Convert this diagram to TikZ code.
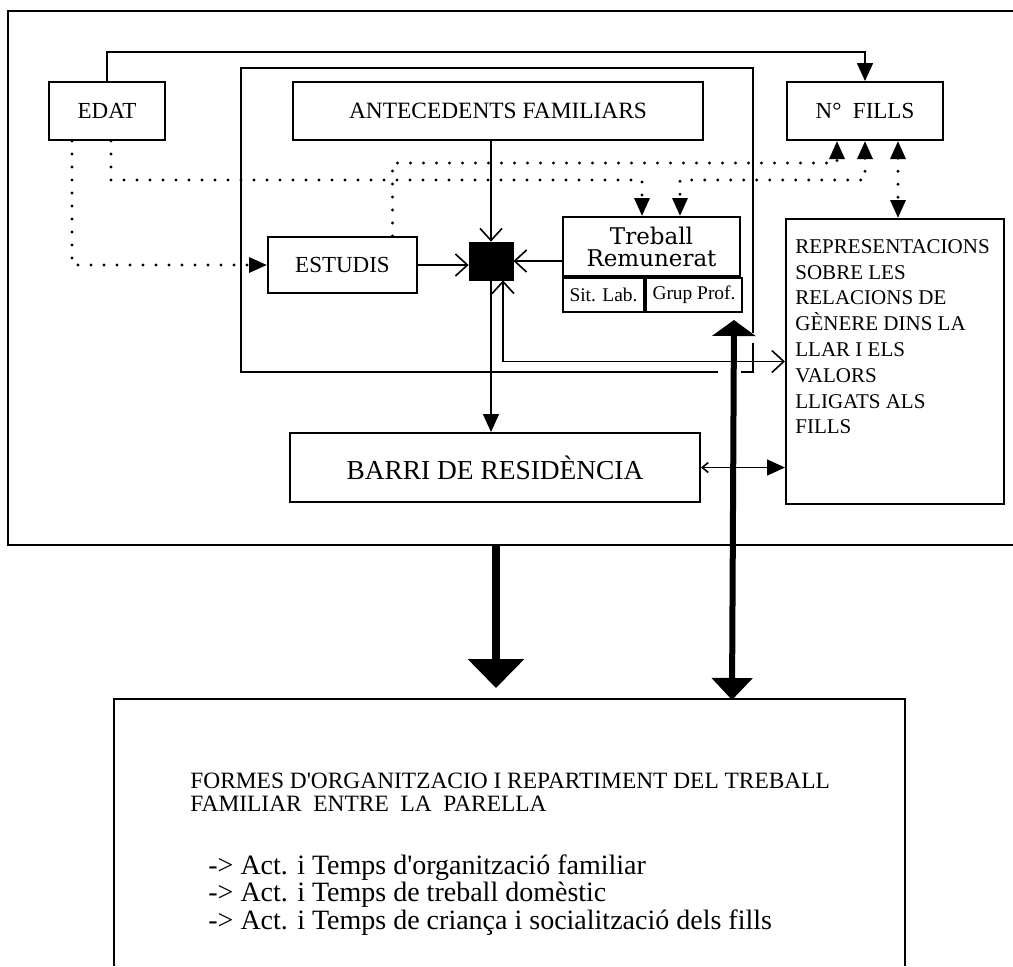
\documentclass[tikz,border=0pt]{standalone}
\usepackage{fontspec}
\setmainfont{Liberation Serif}
\newfontfamily\widefont{DejaVu Serif}
\usetikzlibrary{arrows.meta,positioning}

\tikzset{
  box/.style={draw, line width=1pt, inner sep=0pt, align=center},
  frameline/.style={line width=1.2pt},
  thinlink/.style={line width=0.8pt},
  dots/.style={line width=1.6pt, line cap=round, dash pattern=on 0pt off 6.5pt},
  barb/.tip={Straight Barb[length=6pt,width=11pt,line width=0.8pt]},
  solidtip/.tip={Triangle[length=9pt,width=8pt]},
  dottip/.tip={Triangle[length=9pt,width=7.5pt]},
}

\begin{document}
\begin{tikzpicture}[x=0.5pt,y=-0.5pt]
\useasboundingbox (0,0) rectangle (1013,966);

\draw[frameline] (1013,11) -- (8,11) -- (8,545) -- (1013,545);
\draw[frameline] (718,372) -- (241,372) -- (241,68) -- (753,68) -- (753,333);
\draw[frameline] (741,372) -- (753,372) -- (753,343);
\draw[frameline] (114,966) -- (114,699) -- (905,699) -- (905,966);

\node[box, minimum width=58pt, minimum height=29pt, font=\fontsize{11.5}{13}\selectfont] (edat) at (107,111) {EDAT};
\node[box, minimum width=205pt, minimum height=29pt, font=\fontsize{11.7}{13}\selectfont] (antec) at (498,111) {ANTECEDENTS FAMILIARS};
\node[box, minimum width=78pt, minimum height=29pt, font=\fontsize{11.5}{13}\selectfont] (fills) at (865,111) {N°\ \ FILLS};

\node[box, minimum width=74.5pt, minimum height=28pt, font=\fontsize{11.5}{13}\selectfont] (estudis) at (342.5,265) {ESTUDIS};
\node[draw, fill=black, minimum width=22pt, minimum height=19pt, inner sep=0pt] (sq) at (491,261) {};
\node[box, minimum width=88.5pt, minimum height=29.5pt, font=\widefont\fontsize{11.5}{11}\selectfont] (treball) at (651.5,246.5) {Treball\\Remunerat};
\node[box, minimum width=40.5pt, minimum height=17pt, font=\fontsize{9.7}{11}\selectfont, below right=0pt and 0pt of treball.south west, anchor=north west] (sit) {Sit. Lab.};
\node[box, minimum width=48pt, minimum height=17pt, font=\fontsize{9.7}{11}\selectfont, right=0pt of sit] (grup) {Grup Prof.};

\node[box, minimum width=109pt, minimum height=142.5pt, anchor=north west] (repr) at (785,218) {};
\node[anchor=north west, align=left, inner sep=0pt, font=\fontsize{10.5}{12.9}\selectfont] (reprtext) at (795,239) {REPRESENTACIONS\\SOBRE LES\\RELACIONS DE\\GÈNERE DINS LA\\LLAR I ELS\\VALORS\\LLIGATS ALS\\FILLS};

\node[box, minimum width=205pt, minimum height=34.5pt, font=\fontsize{13.7}{15}\selectfont] (barri) at (495,467.5) {BARRI DE RESIDÈNCIA};

\node[anchor=north west, align=left, inner sep=0pt, font=\fontsize{11.7}{11.5}\selectfont] (formes) at (190,773) {FORMES D\textquotesingle ORGANITZACIO I REPARTIMENT DEL TREBALL\\FAMILIAR\ \ ENTRE\ \ LA\ \ PARELLA};
\node[anchor=north west, align=left, inner sep=0pt, font=\fontsize{14}{11.5}\selectfont] (acts) at (208,854) {-> Act. i Temps d\textquotesingle organització familiar\\-> Act. i Temps de treball domèstic\\-> Act. i Temps de criança i socialització dels fills};

\coordinate (rowA) at (0,163);
\coordinate (rowB) at (0,180);
\coordinate (edatL) at ([xshift=-17.5pt]edat.south);
\coordinate (edatR) at ([xshift=2pt]edat.south);
\coordinate (estT) at ([xshift=25pt]estudis.north);
\coordinate (trL) at ([xshift=-4.75pt]treball.north);
\coordinate (trR) at ([xshift=14.25pt]treball.north);
\coordinate (fillsL) at ([xshift=-14pt]fills.south);
\coordinate (fillsR) at (fills.south);
\coordinate (fillsX) at ([xshift=16.5pt]fills.south);
\coordinate (outS) at (496,545);
\coordinate (botA) at (496,688);
\coordinate (grupT) at ([xshift=20pt,yshift=-3.5pt]grup.south);
\coordinate (botB) at (732,700);

\draw[thinlink, -solidtip] (edat.north) -- ++(0,-29) -| (fills.north);
\draw[thinlink, -barb] (sq.north |- antec.south) -- (sq.north);
\draw[thinlink, -barb] (estudis.east) -- (estudis.east -| sq.west);
\draw[thinlink, -barb] (sq.east -| treball.west) -- (sq.east);
\draw[thinlink, -solidtip] (sq.south) -- (sq.south |- barri.north);
\draw[thinlink, barb-barb] ([xshift=6pt]sq.south) |- (repr.west);
\draw[thinlink, {Straight Barb[length=3pt,width=5pt]}-solidtip] (barri.east) -- (barri.east -| repr.west);

\draw[dots, -dottip] (edatL) |- (estudis.west);
\draw[dots, -dottip] (estT) |- (fillsL |- rowA) -- (fillsL);
\draw[dots, -dottip] (edatR) |- (trL |- rowB) -- (trL);
\draw[dots, dottip-dottip] (fillsR) -- (fillsR |- rowB) -| (trR);
\draw[dots, dottip-dottip] (fillsX) -- (fillsX |- repr.north);

\draw[line width=4pt, -{Triangle[length=14.5pt,width=27.5pt]}] (outS) -- (botA);
\draw[line width=3pt, {Triangle[length=8pt,width=21.5pt]}-{Triangle[length=11pt,width=20pt]}] (grupT) -- (botB);
\end{tikzpicture}
\end{document}
